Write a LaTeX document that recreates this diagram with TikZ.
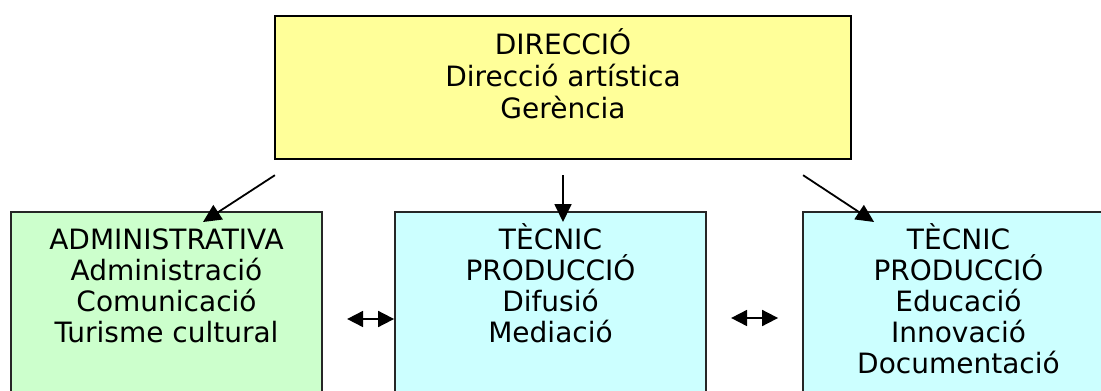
\documentclass[tikz,border=0pt]{standalone}
\usepackage{fontspec}
\setmainfont{DejaVu Sans}
\usepackage{tikz}
\usetikzlibrary{arrows.meta}
\usetikzlibrary{calc}

\definecolor{dirfill}{HTML}{FFFF99}
\definecolor{admfill}{HTML}{CCFFCC}
\definecolor{tecfill}{HTML}{CCFFFF}

\tikzset{
	dirbox/.style={draw, line width=2.2pt, fill=dirfill, anchor=north, inner sep=0pt,
		minimum width=576pt, align=center, text height=102.5pt, text depth=40.5pt,
		font=\fontsize{28}{32}\selectfont},
	areabox/.style={draw=black!85, line width=1.8pt, anchor=north, inner sep=0pt,
		minimum width=311pt, align=center, text height=131pt, text depth=60pt,
		font=\fontsize{28}{31}\selectfont},
	arr/.style={line width=1.8pt, -{Triangle[length=18pt,width=17pt]}},
	dblarr/.style={line width=1.8pt, {Triangle[length=16pt,width=16pt]}-{Triangle[length=16pt,width=16pt]}}
}

\begin{document}
\begin{tikzpicture}[x=1pt,y=-1pt]
\clip (0,0) rectangle (1101,391);
\fill[white] (0,0) rectangle (1101,391);

\node[dirbox] (dir) at (563,15) {DIRECCIÓ\\Direcció artística\\Gerència};
\node[areabox, fill=admfill] (adm) at (166.5,211) {ADMINISTRATIVA\\Administració\\Comunicació\\Turisme cultural};
\node[areabox, fill=tecfill] (dif) at (550.5,211) {TÈCNIC\\PRODUCCIÓ\\Difusió\\Mediació};
\node[areabox, fill=tecfill, text height=162pt] (edu) at (958.5,211) {TÈCNIC\\PRODUCCIÓ\\Educació\\Innovació\\Documentació};

%free ends of the connectors
\coordinate (dir-1) at ($(dir.south west)+(1,15)$);
\coordinate (dir-2) at ($(dir.south)+(0,15)$);
\coordinate (dir-3) at ($(dir.south east)+(-49,15)$);
\coordinate (adm-in) at ($(adm.north)+(36.5,11)$);
\coordinate (dif-in) at ($(dif.north)+(12.5,11)$);
\coordinate (edu-in) at ($(edu.north west)+(72,11)$);
\coordinate (dif-w) at ($(dif.north west)+(0,108)$);
\coordinate (adm-e) at ($(dif-w)+(-47,0)$);
\coordinate (edu-w) at ($(edu.north west)+(-24,107)$);
\coordinate (dif-e) at ($(edu-w)+(-47,0)$);

\path[arr]
(dir-1) edge (adm-in)
(dir-2) edge (dif-in)
(dir-3) edge (edu-in)
;
\path[dblarr]
(adm-e) edge (dif-w)
(dif-e) edge (edu-w)
;
\end{tikzpicture}
\end{document}
